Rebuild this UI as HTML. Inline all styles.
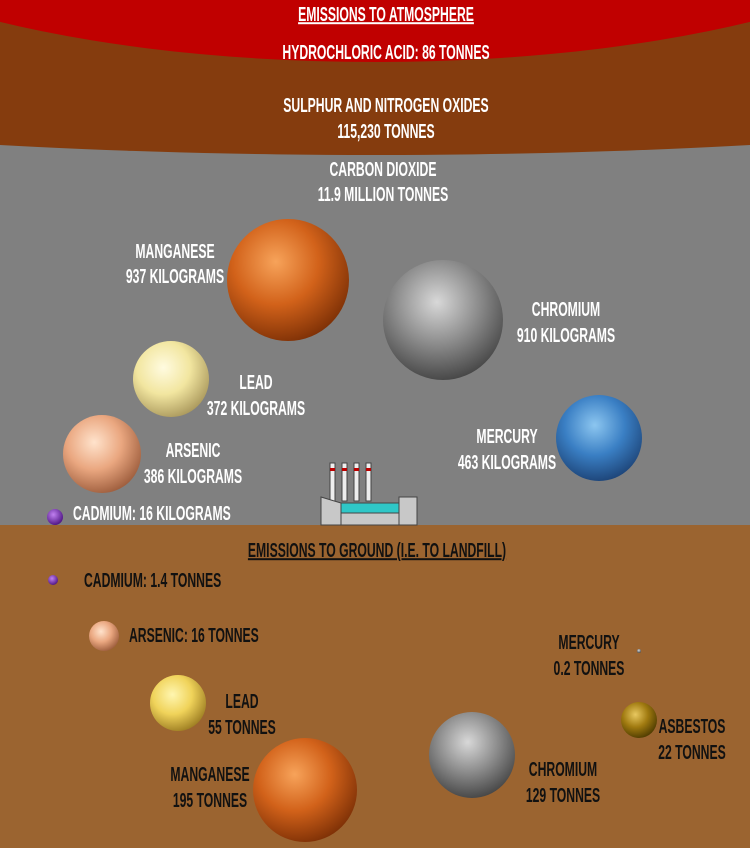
<!DOCTYPE html>
<html><head><meta charset="utf-8"><style>
body{margin:0;width:750px;height:848px;overflow:hidden;background:#808080}
svg{display:block}
text{font-family:"Liberation Sans Narrow","Liberation Sans",sans-serif;font-weight:bold;font-size:20px;fill:#fff}
.d{fill:#111}
</style></head><body>
<svg width="750" height="848">
<defs>
<radialGradient id="gOr" cx="40%" cy="35%" r="70%"><stop offset="0" stop-color="#f7a35a"/><stop offset=".5" stop-color="#d2621a"/><stop offset="1" stop-color="#7a2e05"/></radialGradient>
<radialGradient id="gGr" cx="45%" cy="35%" r="70%"><stop offset="0" stop-color="#d8d8d8"/><stop offset=".5" stop-color="#8c8c8c"/><stop offset="1" stop-color="#3e3e3e"/></radialGradient>
<radialGradient id="gYe" cx="40%" cy="35%" r="70%"><stop offset="0" stop-color="#fffbe0"/><stop offset=".5" stop-color="#f2e6a0"/><stop offset="1" stop-color="#a8965a"/></radialGradient>
<radialGradient id="gYe2" cx="40%" cy="35%" r="70%"><stop offset="0" stop-color="#fff6b0"/><stop offset=".5" stop-color="#f0d35a"/><stop offset="1" stop-color="#9a7a20"/></radialGradient>
<radialGradient id="gPe" cx="40%" cy="35%" r="70%"><stop offset="0" stop-color="#ffe3cc"/><stop offset=".5" stop-color="#eaa780"/><stop offset="1" stop-color="#9a5a3a"/></radialGradient>
<radialGradient id="gBl" cx="45%" cy="35%" r="70%"><stop offset="0" stop-color="#8cc6f0"/><stop offset=".5" stop-color="#3a7fc4"/><stop offset="1" stop-color="#1a3e70"/></radialGradient>
<radialGradient id="gPu" cx="40%" cy="35%" r="70%"><stop offset="0" stop-color="#c080f0"/><stop offset="1" stop-color="#4a1080"/></radialGradient>
<radialGradient id="gOl" cx="40%" cy="35%" r="70%"><stop offset="0" stop-color="#e8c860"/><stop offset=".5" stop-color="#a07a10"/><stop offset="1" stop-color="#4a3800"/></radialGradient>
</defs>
<rect x="0" y="0" width="750" height="525" fill="#808080"/>
<ellipse cx="375" cy="18" rx="1000" ry="137" fill="#853c0e"/>
<ellipse cx="375" cy="-121" rx="600" ry="183" fill="#c00000"/>
<rect x="0" y="525" width="750" height="323" fill="#9b6430"/>
<text x="386" y="21" text-anchor="middle" text-decoration="underline">EMISSIONS TO ATMOSPHERE</text>
<text x="386" y="59" text-anchor="middle">HYDROCHLORIC ACID: 86 TONNES</text>
<text x="386" y="112" text-anchor="middle">SULPHUR AND NITROGEN OXIDES</text>
<text x="386" y="138" text-anchor="middle">115,230 TONNES</text>
<text x="383" y="176" text-anchor="middle">CARBON DIOXIDE</text>
<text x="383" y="201" text-anchor="middle">11.9 MILLION TONNES</text>

<circle cx="288" cy="280" r="61" fill="url(#gOr)"/>
<circle cx="443" cy="320" r="60" fill="url(#gGr)"/>
<circle cx="171" cy="379" r="38" fill="url(#gYe)"/>
<circle cx="102" cy="454" r="39" fill="url(#gPe)"/>
<circle cx="599" cy="438" r="43" fill="url(#gBl)"/>
<circle cx="55" cy="517" r="8" fill="url(#gPu)"/>

<text x="175" y="258" text-anchor="middle">MANGANESE</text><text x="175" y="283" text-anchor="middle">937 KILOGRAMS</text>
<text x="566" y="316" text-anchor="middle">CHROMIUM</text><text x="566" y="342" text-anchor="middle">910 KILOGRAMS</text>
<text x="256" y="389" text-anchor="middle">LEAD</text><text x="256" y="415" text-anchor="middle">372 KILOGRAMS</text>
<text x="193" y="457" text-anchor="middle">ARSENIC</text><text x="193" y="483" text-anchor="middle">386 KILOGRAMS</text>
<text x="507" y="443" text-anchor="middle">MERCURY</text><text x="507" y="469" text-anchor="middle">463 KILOGRAMS</text>
<text x="73" y="520">CADMIUM: 16 KILOGRAMS</text>

<g stroke="#444" stroke-width="1">
<rect x="330" y="463" width="5" height="38" fill="#eee"/><rect x="342" y="463" width="5" height="38" fill="#eee"/><rect x="354" y="463" width="5" height="38" fill="#eee"/><rect x="366" y="463" width="5" height="38" fill="#eee"/>
<rect x="330" y="468" width="5" height="3" fill="#b00" stroke="none"/><rect x="342" y="468" width="5" height="3" fill="#b00" stroke="none"/><rect x="354" y="468" width="5" height="3" fill="#b00" stroke="none"/><rect x="366" y="468" width="5" height="3" fill="#b00" stroke="none"/>
<path d="M321 497 L341 503 L341 525 L321 525Z" fill="#c8c8c8"/>
<rect x="341" y="503" width="58" height="22" fill="#c8c8c8"/>
<rect x="341" y="503" width="58" height="10" fill="#2fc7c7"/>
<rect x="399" y="497" width="18" height="28" fill="#c8c8c8"/>
</g>

<text x="377" y="557" text-anchor="middle" class="d" text-decoration="underline">EMISSIONS TO  GROUND (I.E. TO LANDFILL)</text>
<circle cx="53" cy="580" r="5" fill="url(#gPu)"/>
<circle cx="104" cy="636" r="15" fill="url(#gPe)"/>
<circle cx="178" cy="703" r="28" fill="url(#gYe2)"/>
<circle cx="305" cy="790" r="52" fill="url(#gOr)"/>
<circle cx="472" cy="755" r="43" fill="url(#gGr)"/>
<circle cx="639" cy="720" r="18" fill="url(#gOl)"/>
<circle cx="639" cy="651" r="2" fill="url(#gGr)"/>
<text x="84" y="587" class="d">CADMIUM: 1.4 TONNES</text>
<text x="129" y="642" class="d">ARSENIC: 16 TONNES</text>
<text x="242" y="708" text-anchor="middle" class="d">LEAD</text><text x="242" y="734" text-anchor="middle" class="d">55 TONNES</text>
<text x="210" y="781" text-anchor="middle" class="d">MANGANESE</text><text x="210" y="807" text-anchor="middle" class="d">195 TONNES</text>
<text x="563" y="776" text-anchor="middle" class="d">CHROMIUM</text><text x="563" y="802" text-anchor="middle" class="d">129 TONNES</text>
<text x="589" y="649" text-anchor="middle" class="d">MERCURY</text><text x="589" y="675" text-anchor="middle" class="d">0.2 TONNES</text>
<text x="692" y="733" text-anchor="middle" class="d">ASBESTOS</text><text x="692" y="759" text-anchor="middle" class="d">22 TONNES</text>
</svg>
<script>
document.querySelectorAll('text').forEach(function(t){
  var x = parseFloat(t.getAttribute('x'));
  t.setAttribute('transform','translate(' + x + ',0) scale(0.61,1) translate(' + (-x) + ',0)');
});
</script>
</body></html>
